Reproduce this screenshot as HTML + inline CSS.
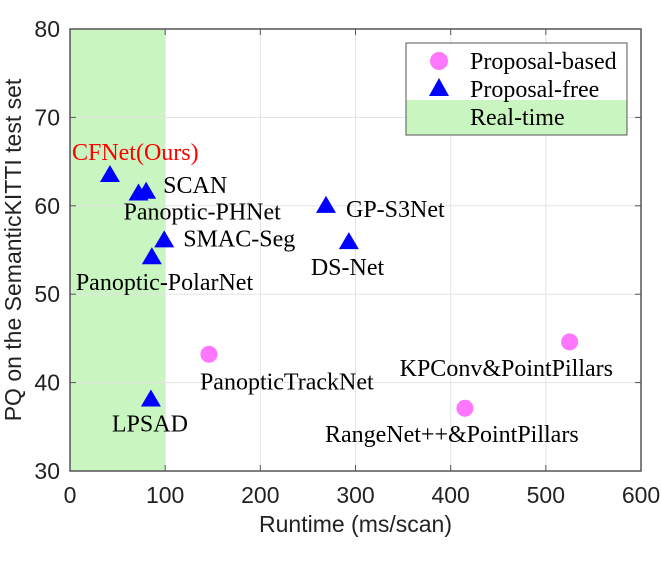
<!DOCTYPE html>
<html><head><meta charset="utf-8"><style>
body{margin:0;background:#fff}
svg{display:block}
.t{font-family:"Liberation Serif",serif;font-size:24px;fill:#000}
.a{font-family:"Liberation Sans",sans-serif;font-size:23px;fill:#222}
</style></head><body>
<svg id="c" width="661" height="564"></svg>
<script>
const xTicks=[0,100,200,300,400,500,600];
const yTicks=[30,40,50,60,70,80];
const freeNames=["CFNet(Ours)","SCAN","Panoptic-PHNet","SMAC-Seg","Panoptic-PolarNet","LPSAD","GP-S3Net","DS-Net"];
const freeX=[42,80,72,99,86,85,269,293];
const freeY=[63.6,61.7,61.5,56.2,54.3,38.2,60.1,56.0];
const basedNames=["PanopticTrackNet","KPConv&PointPillars","RangeNet++&PointPillars"];
const basedX=[146,525,415];
const basedY=[43.2,44.6,37.1];
const realtimeMax=100;
const freeLab=[[-38,-14],[17,2],[-15,27],[19,7],[-76,34],[-39,33],[20,12],[-38,34]];
const basedLab=[[-9,35],[-170,34],[-140,34]];

const NS="http://www.w3.org/2000/svg";
const svg=document.getElementById('c');
const X0=70,X1=641,Y0=471,Y1=29;
const sx=v=>X0+(v-0)/600*(X1-X0);
const sy=v=>Y0-(v-30)/50*(Y0-Y1);
function mk(tag,at,parent){const e=document.createElementNS(NS,tag);for(const k in at)e.setAttribute(k,at[k]);(parent||svg).appendChild(e);return e;}

let e;
e=mk('rect',{x:X0,y:Y1,width:X1-X0,height:Y0-Y1,fill:'#fff'});


e=mk('rect',{x:X0,y:Y1,width:sx(realtimeMax)-X0,height:Y0-Y1,fill:'#c9f5c0'});


xTicks.forEach(v=>{
  e=mk('line',{x1:sx(v),x2:sx(v),y1:Y1,y2:Y0,stroke:'#e3e3e3','stroke-width':1});
  
  
  mk('line',{x1:sx(v),x2:sx(v),y1:Y0,y2:Y0-6,stroke:'#555'});
  mk('line',{x1:sx(v),x2:sx(v),y1:Y1,y2:Y1+6,stroke:'#555'});
  e=mk('text',{x:sx(v),y:Y0+32,'text-anchor':'middle',class:'a'});e.textContent=v;
  
  
});
yTicks.forEach(v=>{
  e=mk('line',{x1:X0,x2:X1,y1:sy(v),y2:sy(v),stroke:'#e3e3e3','stroke-width':1});
  
  
  mk('line',{x1:X0,x2:X0+6,y1:sy(v),y2:sy(v),stroke:'#555'});
  mk('line',{x1:X1,x2:X1-6,y1:sy(v),y2:sy(v),stroke:'#555'});
  e=mk('text',{x:X0-10,y:sy(v)+8,'text-anchor':'end',class:'a'});e.textContent=v;
  
  
});
e=mk('rect',{x:X0,y:Y1,width:X1-X0,height:Y0-Y1,fill:'none',stroke:'#555','stroke-width':1.5});



freeX.forEach((v,i)=>{
  const cx=sx(v),cy=sy(freeY[i]);
  e=mk('polygon',{points:`${cx-10},${cy+8} ${cx+10},${cy+8} ${cx},${cy-9}`,fill:'#0000ff'});
  
  
  e=mk('text',{x:cx+freeLab[i][0],y:cy+freeLab[i][1],class:'t'});
  if(i==0)e.style.fill='#ff0000';
  e.textContent=freeNames[i];
  
  
});
basedX.forEach((v,i)=>{
  const cx=sx(v),cy=sy(basedY[i]);
  e=mk('circle',{cx:cx,cy:cy,r:8.5,fill:'#ff77ff'});
  
  
  e=mk('text',{x:cx+basedLab[i][0],y:cy+basedLab[i][1],class:'t'});
  e.textContent=basedNames[i];
  
  
});

const lg=mk('g',{});


mk('rect',{x:406,y:43,width:221,height:92,fill:'#fff'},lg);
mk('rect',{x:406,y:100,width:221,height:35,fill:'#c9f5c0'},lg);
mk('rect',{x:406,y:43,width:221,height:92,fill:'none',stroke:'#555','stroke-width':1},lg);
mk('circle',{cx:439,cy:61,r:9,fill:'#ff77ff'},lg);
mk('polygon',{points:'429,96 449,96 439,78',fill:'#0000ff'},lg);
[['Proposal-based',69],['Proposal-free',97],['Real-time',125]].forEach(([t,y])=>{
  e=mk('text',{x:470,y:y,class:'t'},lg);e.textContent=t;
  
  
});

e=mk('text',{x:(X0+X1)/2,y:532,'text-anchor':'middle',class:'a'});e.textContent='Runtime (ms/scan)';


e=mk('text',{x:0,y:0,'text-anchor':'middle',class:'a',transform:`translate(21,${(Y0+Y1)/2}) rotate(-90)`});e.textContent='PQ on the SemanticKITTI test set';


</script>
</body></html>
